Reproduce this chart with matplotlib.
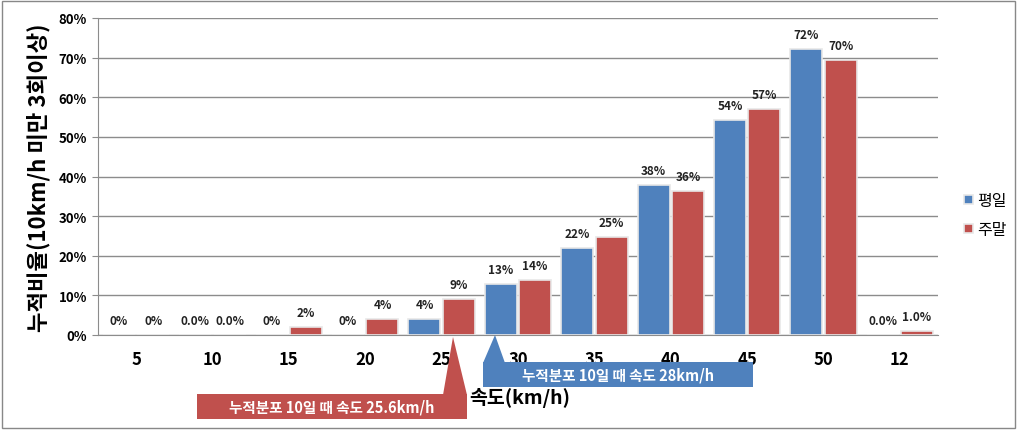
import matplotlib
matplotlib.use("Agg")
import matplotlib.pyplot as plt
from matplotlib.patches import Polygon, Rectangle
import numpy as np

plt.rcParams['font.family'] = ['Noto Sans CJK KR', 'DejaVu Sans']

categories = ["5", "10", "15", "20", "25", "30", "35", "40", "45", "50", "12"]
weekday = [0.0, 0.0, 0.0, 0.0, 4.0, 12.9, 22.0, 37.9, 54.3, 72.2, 0.0]
weekend = [0.0, 0.0, 2.0, 4.0, 9.1, 13.9, 24.7, 36.4, 57.0, 69.4, 1.0]
weekday_labels = ["0%", "0.0%", "0%", "0%", "4%", "13%", "22%", "38%", "54%", "72%", "0.0%"]
weekend_labels = ["0%", "0.0%", "2%", "4%", "9%", "14%", "25%", "36%", "57%", "70%", "1.0%"]
series_names = ["평일", "주말"]
yticks = [0, 10, 20, 30, 40, 50, 60, 70, 80]
callout_red = "누적분포 10일 때 속도 25.6km/h"
callout_blue = "누적분포 10일 때 속도 28km/h"

W, H = 1017, 431
fig = plt.figure(figsize=(W / 100, H / 100), dpi=100)
ax = fig.add_axes([98 / W, 1 - 336 / H, (938 - 98) / W, (336 - 19) / H])

blue = "#4F81BD"
red = "#C0504D"
grid_c = "#8C8C8C"

x = np.arange(len(categories))
bw = 0.42
off = 0.225
ax.set_axisbelow(True)
ax.yaxis.grid(True, color=grid_c, linewidth=1)
ax.bar(x - off, weekday, bw, color=blue, edgecolor="#E8E8E8", linewidth=1.2, label=series_names[0], zorder=3)
ax.bar(x + off, weekend, bw, color=red, edgecolor="#E8E8E8", linewidth=1.2, label=series_names[1], zorder=3)

for xi, v, lab in zip(x - off, weekday, weekday_labels):
    ax.text(xi, v + 2.0, lab, ha="center", va="bottom", fontsize=8.5, fontweight="semibold", color="#222222")
for xi, v, lab in zip(x + off, weekend, weekend_labels):
    ax.text(xi, v + 2.0, lab, ha="center", va="bottom", fontsize=8.5, fontweight="semibold", color="#222222")

ax.set_xlim(-0.5, len(categories) - 0.5)
ax.set_ylim(0, 80)
ax.set_yticks(yticks)
ax.set_yticklabels([f"{t}%" for t in yticks], fontsize=9.5, fontweight="bold")
ax.set_xticks(x)
ax.set_xticklabels(categories, fontsize=12, fontweight="bold")
ax.tick_params(axis="x", length=0, pad=11)
ax.tick_params(axis="y", length=4, color=grid_c, pad=4)
for s in ["top", "right"]:
    ax.spines[s].set_visible(False)
ax.spines["left"].set_color(grid_c)
ax.spines["bottom"].set_color(grid_c)

ax.set_ylabel("누적비율(10km/h 미만 3회이상)", fontsize=16, fontweight="bold")
ax.yaxis.set_label_coords(-48 / 840, 0.5)

# x label
fig.text(520 / W, 1 - 398 / H, "속도(km/h)", ha="center", va="center", fontsize=14, fontweight="bold", zorder=5)

def P(px, py):
    return (px / W, 1 - py / H)

# red callout
fig.patches.append(Polygon([P(443, 396), P(453, 338), P(467, 396)], closed=True,
                           transform=fig.transFigure, facecolor=red, edgecolor="none", zorder=4))
fig.patches.append(Rectangle(P(197, 420), 270 / W, 25 / H, transform=fig.transFigure,
                             facecolor=red, edgecolor="none", zorder=4))
fig.text(332 / W, 1 - 408 / H, callout_red, ha="center", va="center", color="white",
         fontsize=10.5, fontweight="semibold", zorder=6)

# blue callout
fig.patches.append(Polygon([P(483, 364), P(495, 336), P(505, 364)], closed=True,
                           transform=fig.transFigure, facecolor=blue, edgecolor="none", zorder=4))
fig.patches.append(Rectangle(P(483, 388), 270 / W, 25 / H, transform=fig.transFigure,
                             facecolor=blue, edgecolor="none", zorder=4))
fig.text(618 / W, 1 - 376 / H, callout_blue, ha="center", va="center", color="white",
         fontsize=10.5, fontweight="semibold", zorder=6)

# legend
leg = fig.legend(loc="center left", bbox_to_anchor=(950 / W, 1 - 216 / H), frameon=False,
                 fontsize=11.5, handlelength=0.55, handleheight=0.55, handletextpad=0.25, labelspacing=0.75)

# figure border
fig.patches.append(Rectangle((2 / W, 2 / H), 1 - 4 / W, 1 - 4 / H, transform=fig.transFigure,
                             facecolor="none", edgecolor="#888888", linewidth=1, zorder=1))

fig.savefig("out.png", dpi=100)
